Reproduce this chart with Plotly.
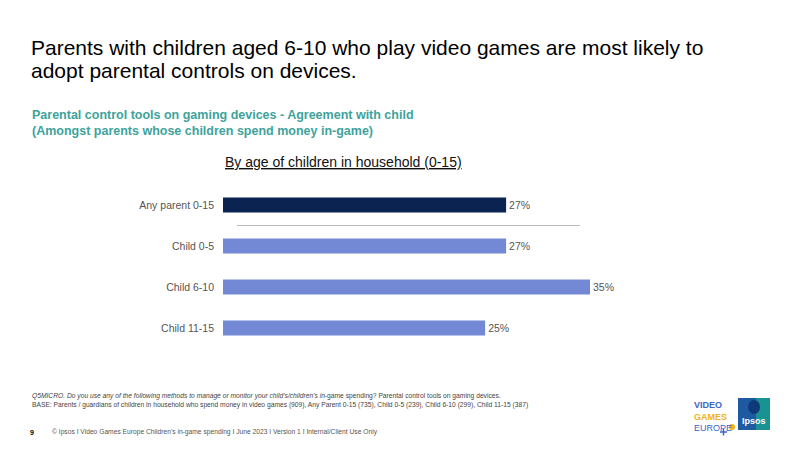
import plotly.graph_objects as go

categories = ["Any parent 0-15", "Child 0-5", "Child 6-10", "Child 11-15"]
values = [27, 27, 35, 25]
value_labels = ["27%", "27%", "35%", "25%"]
bar_colors = ["#0a2351", "#7389d6", "#7389d6", "#7389d6"]

title_line1 = "Parents with children aged 6-10 who play video games are most likely to"
title_line2 = "adopt parental controls on devices."
subtitle = "Parental control tools on gaming devices - Agreement with child<br>(Amongst parents whose children spend money in-game)"
chart_heading = "<u>By age of children in household (0-15)</u>"
footnote1 = "<i>Q5MICRO. Do you use any of the following methods to manage or monitor your child's/children's in</i>-game spending? Parental control tools on gaming devices."
footnote2 = "BASE: Parents / guardians of children in household who spend money in video games (909), Any Parent 0-15 (735), Child 0-5 (239), Child 6-10 (299), Child 11-15 (387)"
footer = "© Ipsos I Video Games Europe Children's in-game spending I June 2023 I Version 1 I Internal/Client Use Only"

W, H = 800, 450
font = "Liberation Sans, Arial, sans-serif"

fig = go.Figure()
fig.add_trace(go.Bar(
    x=values, y=categories, orientation="h",
    marker=dict(color=bar_colors, line=dict(width=0)),
    width=0.37,
    text=value_labels, textposition="outside",
    textfont=dict(size=10.5, color="#555555", family=font),
    cliponaxis=False,
    hoverinfo="skip",
))

def px_x(x):
    return x / W

def px_y(y):
    return 1 - y / H

fig.update_layout(
    width=W, height=H,
    margin=dict(l=0, r=0, t=0, b=0),
    paper_bgcolor="white", plot_bgcolor="white",
    showlegend=False,
    font=dict(family=font),
    xaxis=dict(range=[0, 35], domain=[px_x(223), px_x(590)], visible=False, fixedrange=True),
    yaxis=dict(range=[3.5, -0.5], domain=[px_y(348.5), px_y(184.5)], showgrid=False, zeroline=False,
               showline=False, ticks="", ticklabelstandoff=8,
               tickfont=dict(size=10.5, color="#555555", family=font), fixedrange=True),
    bargap=0.6,
)

# separator line
fig.add_shape(type="line", xref="paper", yref="y", x0=px_x(237), x1=px_x(580), y0=0.5, y1=0.5,
              line=dict(color="#bbbbbb", width=1))

ann = []
ann.append(dict(text=title_line1, x=px_x(29), y=px_y(47), xanchor="left", yanchor="middle", align="left",
                font=dict(size=21, color="#000000", family=font)))
ann.append(dict(text=title_line2, x=px_x(29), y=px_y(70), xanchor="left", yanchor="middle", align="left",
                font=dict(size=21, color="#000000", family=font)))
ann.append(dict(text="<b>" + subtitle + "</b>", x=px_x(30), y=px_y(106), xanchor="left", yanchor="top", align="left",
                font=dict(size=12.5, color="#3ea39c", family=font)))
ann.append(dict(text=chart_heading, x=px_x(223), y=px_y(152), xanchor="left", yanchor="top", align="left",
                font=dict(size=14, color="#111111", family=font)))
ann.append(dict(text=footnote1 + "<br>" + footnote2, x=px_x(30), y=px_y(390), xanchor="left", yanchor="top", align="left",
                font=dict(size=6.7, color="#444444", family=font)))
ann.append(dict(text="<b>9</b>", x=px_x(28), y=px_y(432), xanchor="left", yanchor="middle",
                font=dict(size=7, color="#000000", family=font)))
ann.append(dict(text=footer, x=px_x(50), y=px_y(432), xanchor="left", yanchor="middle",
                font=dict(size=6.7, color="#555555", family=font)))
# Video Games Europe logo text
ann.append(dict(text="<b><span style='color:#3b64c8'>VIDEO</span><br><span style='color:#f2b21b'>GAMES</span></b><br>"
                     "<span style='color:#3b64c8'>EUROPE</span>",
                x=px_x(692), y=px_y(398), xanchor="left", yanchor="top", align="left",
                font=dict(size=9, color="#3b64c8", family=font)))
ann.append(dict(text="<b>Ipsos</b>", x=px_x(754), y=px_y(421), xanchor="center", yanchor="middle",
                font=dict(size=9, color="#ffffff", family=font)))
for a in ann:
    a.update(xref="paper", yref="paper", showarrow=False)
fig.update_layout(annotations=ann)

# logo shapes
fig.add_shape(type="circle", xref="paper", yref="paper", x0=px_x(729), x1=px_x(735), y0=px_y(430), y1=px_y(424),
              fillcolor="#f2b21b", line=dict(width=0))
fig.add_shape(type="line", xref="paper", yref="paper", x0=px_x(720), x1=px_x(727), y0=px_y(432), y1=px_y(432),
              line=dict(color="#3b64c8", width=1.5))
fig.add_shape(type="line", xref="paper", yref="paper", x0=px_x(723.5), x1=px_x(723.5), y0=px_y(428.5), y1=px_y(435.5),
              line=dict(color="#3b64c8", width=1.5))
fig.add_shape(type="rect", xref="paper", yref="paper", x0=px_x(738), x1=px_x(770), y0=px_y(430), y1=px_y(398),
              fillcolor="#1e5aa0", line=dict(width=0), layer="below")
fig.add_shape(type="rect", xref="paper", yref="paper", x0=px_x(756), x1=px_x(770), y0=px_y(430), y1=px_y(398),
              fillcolor="#17a08e", line=dict(width=0), layer="below", opacity=0.8)
fig.add_shape(type="circle", xref="paper", yref="paper", x0=px_x(748), x1=px_x(760), y0=px_y(414), y1=px_y(400),
              fillcolor="#0e3a7a", line=dict(width=0))

fig.write_html("out.html")
